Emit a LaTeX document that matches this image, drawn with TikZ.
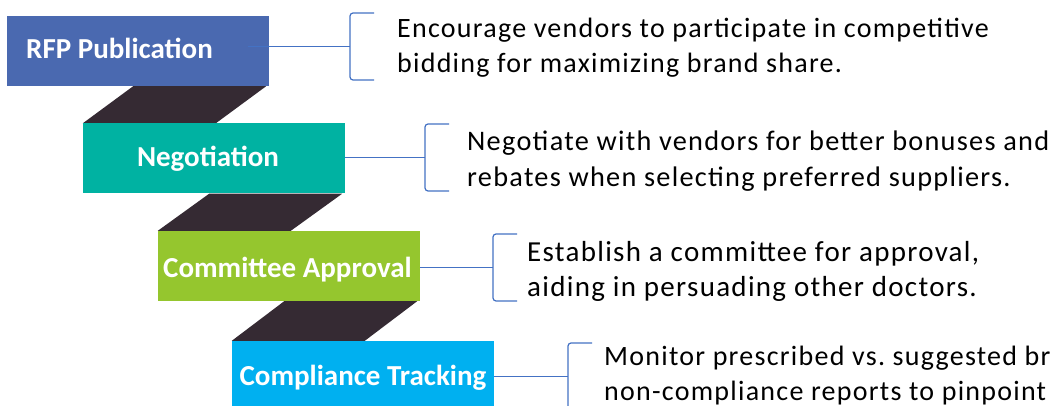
\documentclass[tikz,border=0pt]{standalone}
\usepackage{fontspec}
\setmainfont{Carlito}
\newfontfamily\descfont{Carlito}[LetterSpace=4.5]
\usetikzlibrary{calc,backgrounds}
\definecolor{rfpblue}{HTML}{4A69B0}
\definecolor{negteal}{HTML}{00B2A2}
\definecolor{comgreen}{HTML}{95C62E}
\definecolor{trkcyan}{HTML}{00B0F0}
\definecolor{stairdark}{HTML}{352A33}
\definecolor{linkblue}{HTML}{4472C4}
\begin{document}
\begin{tikzpicture}[x=1pt,y=-1pt,
  stage/.style={rectangle, inner sep=0pt, minimum width=262pt, minimum height=70pt, draw=none},
  stagelabel/.style={anchor=base, text=white, inner sep=0pt,
    font=\bfseries\fontsize{29}{35}\selectfont},
  desc/.style={anchor=base west, inner sep=0pt, text=black,
    font=\descfont\fontsize{#1}{35}\selectfont},
  desc/.default=28,
  link/.style={draw=linkblue, line width=1.2pt},
  brace/.style={draw=linkblue, line width=1.2pt, rounded corners=3pt},
  stair/.style={fill=stairdark}]

\useasboundingbox (0,0) rectangle (1053,406);

% stage boxes
\node[stage, fill=rfpblue]   (b1) at (138,51)   {};
\node[stage, fill=negteal]   (b2) at (214,158.5){};
\node[stage, fill=comgreen]  (b3) at (289,266)  {};
\node[stage, fill=trkcyan]   (b4) at (363,376)  {};

% stage labels
\node[stagelabel] (l1) at (119.5,59)  {RFP Publication};
\node[stagelabel] (l2) at (208,166.7) {Negotiation};
\node[stagelabel] (l3) at (287.5,277.3) {Committee Approval};
\node[stagelabel] (l4) at (363,385)   {Compliance Tracking};

% white page and dark steps joining consecutive stages, behind the boxes
\begin{pgfonlayer}{background}
  \fill[white] (0,0) rectangle (1053,406);
  \foreach \a/\b in {b1/b2, b2/b3, b3/b4}{
    \fill[stair] (\b.north west) -- ($(\b.north west)+(133,0)$)
      -- ($(\a.south east)+(-3,0)$) -- ($(\a.south east)+(-136,0)$) -- cycle;
  }
\end{pgfonlayer}

% bracket junctions
\coordinate (k1) at (350,46.5);
\coordinate (k2) at (425,157.5);
\coordinate (k3) at (493,267.5);
\coordinate (k4) at (568,376.5);

% connectors from stages to brackets
\draw[link] ($(b1.east)+(-21,-4.5)$) -- (k1);
\draw[link] (b2.east |- k2) -- (k2);
\draw[link] (b3.east |- k3) -- (k3);
\draw[link] (b4.east |- k4) -- (k4);

% brackets
\foreach \k in {k1,k2,k3,k4}{
  \draw[brace] ($(\k)+(24,-33.5)$) -- ($(\k)+(0,-33.5)$)
    -- ($(\k)+(0,33.5)$) -- ($(\k)+(24,33.5)$);
}

% descriptions
\node[desc] (d1a) at (397,37.7) {Encourage vendors to participate in competitive};
\node[desc] (d1b) at (397,73)   {bidding for maximizing brand share.};
\node[desc=28.3] (d2a) at (467,150.5) {Negotiate with vendors for better bonuses and};
\node[desc=28.3] (d2b) at (467,186.5) {rebates when selecting preferred suppliers.};
\node[desc=29] (d3a) at (527,261.5) {Establish a committee for approval,};
\node[desc=29] (d3b) at (527,296.5) {aiding in persuading other doctors.};
\node[desc] (d4a) at (604,365.5) {Monitor prescribed vs.\ suggested br};
\node[desc] (d4b) at (604,400.5) {non-compliance reports to pinpoint};
\end{tikzpicture}
\end{document}
